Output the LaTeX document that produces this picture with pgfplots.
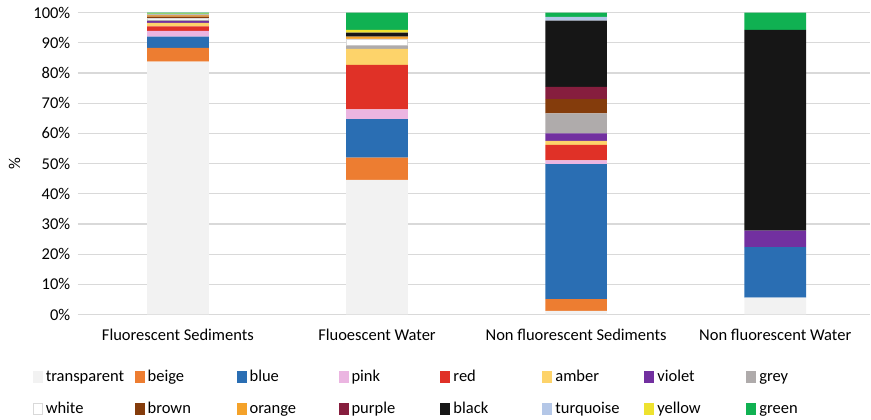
\documentclass[border=0pt]{standalone}
\usepackage{pgfplots}
\usepackage{pgfplotstable}
\pgfplotsset{compat=1.18}
\usepackage{fontspec}
\setmainfont{Carlito}
\definecolor{ctransparent}{HTML}{F2F2F2}
\definecolor{cbeige}{HTML}{ED7D31}
\definecolor{cblue}{HTML}{2A6EB3}
\definecolor{cpink}{HTML}{EBB5E1}
\definecolor{cred}{HTML}{E03127}
\definecolor{camber}{HTML}{FDD36A}
\definecolor{cviolet}{HTML}{7230A0}
\definecolor{cgrey}{HTML}{AFABAB}
\definecolor{cwhite}{HTML}{FFFFFF}
\definecolor{cbrown}{HTML}{843C0C}
\definecolor{corange}{HTML}{F4A22A}
\definecolor{cpurple}{HTML}{861E3E}
\definecolor{cblack}{HTML}{161616}
\definecolor{cturquoise}{HTML}{B4C7E7}
\definecolor{cyellow}{HTML}{EEE22F}
\definecolor{cgreen}{HTML}{10B152}
\definecolor{gridc}{HTML}{D9D9D9}
\pgfplotstableread{
x transparent beige blue pink red amber violet grey white brown orange purple black turquoise yellow green
0 83.8 4.5 3.8 1.9 1.5 1.1 0.6 0.4 0.6 0.5 0.4 0.1 0.1 0.1 0.3 0.3
1 44.6 7.4 12.7 3.3 14.7 5.3 0 1.1 2.2 0 0.8 0 1.3 0 0.9 5.7
2 1.2 3.9 44.7 1.3 5.1 1.3 2.5 6.6 0 4.8 0 4.0 22.0 1.2 0 1.4
3 5.6 0 16.7 0 0 0 5.5 0 0 0 0 0 66.5 0 0 5.7
}\datatable
\begin{document}
\fontsize{16.5pt}{19pt}\selectfont
\begin{tikzpicture}
\begin{axis}[
  ybar stacked,
  scale only axis,
  width=793pt, height=302pt,
  bar width=0.31,
  xmin=-0.502, xmax=3.478,
  ymin=0, ymax=100,
  xtick=data,
  xticklabels={Fluorescent Sediments, Fluoescent Water, Non fluorescent Sediments, Non fluorescent Water},
  ytick={0,10,...,100},
  yticklabels={0\%,10\%,20\%,30\%,40\%,50\%,60\%,70\%,80\%,90\%,100\%},
  major tick length=0pt,
  axis line style={draw=none},
  ymajorgrids,
  grid style={gridc, line width=1.2pt},
  ylabel={\%},
  ylabel style={at={(axis description cs:-0.08,0.5)}, anchor=center},
  yticklabel style={xshift=-2pt},
  xticklabel style={yshift=-9pt},
  tick label style={font=\fontsize{16.5pt}{19pt}\selectfont},
  label style={font=\fontsize{16.5pt}{19pt}\selectfont},
  legend columns=8,
  legend cell align=left,
  legend style={draw=none, at={(axis description cs:-0.057,-0.178)}, anchor=north west,
    font=\fontsize{16.5pt}{19pt}\selectfont,
    inner sep=0pt, outer sep=0pt,
    nodes={text height=12pt, text depth=4pt, inner sep=1pt},
    /tikz/every even column/.append style={text width=88pt},
    /tikz/every odd column/.append style={column sep=2pt},
    row sep=14pt},
  legend image code/.code={\fill[#1] (0pt,-6pt) rectangle (10pt,6pt);},
  extra description/.code={
    \path (axis description cs:0,1) ++(-78pt,12.7pt) coordinate (tl);
    \path (axis description cs:0,0) ++(-78pt,-105pt) coordinate (bl);
  },
]
\addplot[fill=ctransparent, draw=none] table[x=x, y=transparent] {\datatable};
\addplot[fill=cbeige, draw=none] table[x=x, y=beige] {\datatable};
\addplot[fill=cblue, draw=none] table[x=x, y=blue] {\datatable};
\addplot[fill=cpink, draw=none] table[x=x, y=pink] {\datatable};
\addplot[fill=cred, draw=none] table[x=x, y=red] {\datatable};
\addplot[fill=camber, draw=none] table[x=x, y=amber] {\datatable};
\addplot[fill=cviolet, draw=none] table[x=x, y=violet] {\datatable};
\addplot[fill=cgrey, draw=none] table[x=x, y=grey] {\datatable};
\addplot[fill=cwhite, draw=gridc, line width=0.8pt, legend image code/.code={\filldraw[fill=white, draw=gridc, line width=0.8pt] (0.4pt,-5.6pt) rectangle (9.6pt,5.6pt);}] table[x=x, y=white] {\datatable};
\addplot[fill=cbrown, draw=none] table[x=x, y=brown] {\datatable};
\addplot[fill=corange, draw=none] table[x=x, y=orange] {\datatable};
\addplot[fill=cpurple, draw=none] table[x=x, y=purple] {\datatable};
\addplot[fill=cblack, draw=none] table[x=x, y=black] {\datatable};
\addplot[fill=cturquoise, draw=none] table[x=x, y=turquoise] {\datatable};
\addplot[fill=cyellow, draw=none] table[x=x, y=yellow] {\datatable};
\addplot[fill=cgreen, draw=none] table[x=x, y=green] {\datatable};
\legend{transparent, beige, blue, pink, red, amber, violet, grey, white, brown, orange, purple, black, turquoise, yellow, green}
\end{axis}
\end{tikzpicture}
\end{document}
